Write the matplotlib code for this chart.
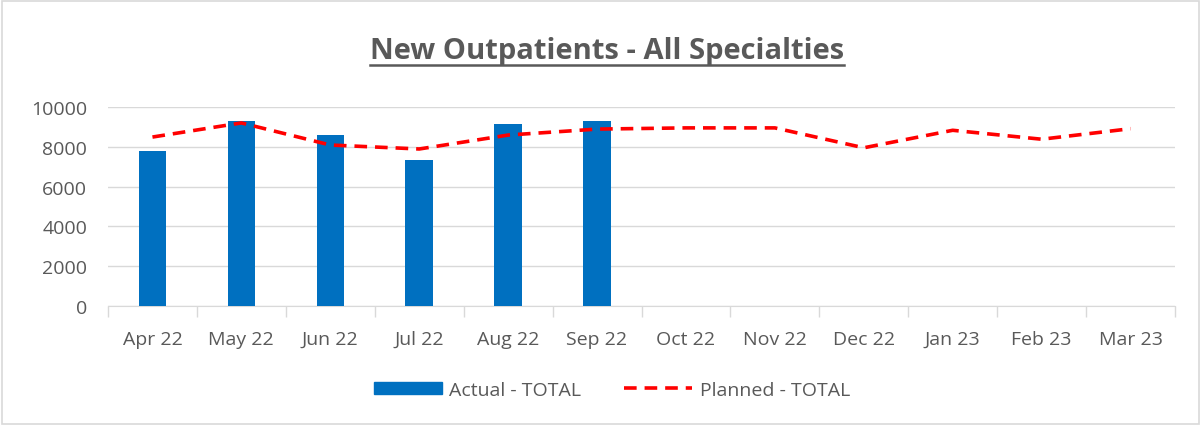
import numpy as np
import matplotlib.pyplot as plt
from matplotlib.patches import Rectangle
from matplotlib.lines import Line2D

months = ['Apr 22', 'May 22', 'Jun 22', 'Jul 22', 'Aug 22', 'Sep 22',
          'Oct 22', 'Nov 22', 'Dec 22', 'Jan 23', 'Feb 23', 'Mar 23']
actual = [7790, 9300, 8590, 7340, 9150, 9300]
planned = [8490, 9200, 8090, 7890, 8590, 8890, 8950, 8950, 7950, 8830, 8380, 8910]

plt.rcParams['font.family'] = ['Open Sans', 'DejaVu Sans']
grey = '#595959'

fig = plt.figure(figsize=(12.01, 4.27), dpi=100)
# chart border
fig.patches.append(Rectangle((0.002, 0.004), 0.996, 0.992, transform=fig.transFigure,
                             fill=False, edgecolor='#d9d9d9', linewidth=1.2))

ax = fig.add_axes([108 / 1201, 1 - 307 / 427, (1175 - 108) / 1201, (307 - 108) / 427])
x = np.arange(len(months))
ax.bar(x[:len(actual)], actual, width=0.31, color='#0070c0', zorder=3)
ax.plot(x, planned, color='#ff0000', linestyle=(0, (3.5, 2.2)), linewidth=2.6, zorder=4)

ax.set_xlim(-0.5, len(months) - 0.5)
ax.set_ylim(0, 10000)
ax.set_yticks(np.arange(0, 10001, 2000))
ax.yaxis.grid(True, color='#d9d9d9', linewidth=1, zorder=0)
ax.tick_params(axis='y', length=0, pad=15, labelsize=14, labelcolor=grey)
ax.set_xticks(x)
ax.set_xticklabels(months)
ax.tick_params(axis='x', which='major', length=0, pad=17, labelsize=14, labelcolor=grey)
ax.set_xticks(np.arange(-0.5, len(months)), minor=True)
ax.tick_params(axis='x', which='minor', length=8, direction='out', color='#d9d9d9', width=1)
for s in ['left', 'right', 'top']:
    ax.spines[s].set_visible(False)
ax.spines['bottom'].set_color('#d9d9d9')

# title with underline
t = fig.text(607 / 1201, 1 - 52 / 427, 'New Outpatients - All Specialties', ha='center', va='center',
             fontsize=21, fontweight='bold', color=grey)
fig.canvas.draw()
bb = t.get_window_extent().transformed(fig.transFigure.inverted())
fig.add_artist(Line2D([bb.x0, bb.x1], [bb.y0 + 0.002, bb.y0 + 0.002], transform=fig.transFigure,
                      color=grey, linewidth=1.8))

handles = [Rectangle((0, 0), 1, 1, color='#0070c0'),
           Line2D([0], [0], color='#ff0000', linestyle=(0, (3.5, 2.2)), linewidth=2.6)]
fig.legend(handles, ['Actual - TOTAL', 'Planned - TOTAL'], loc='center',
           bbox_to_anchor=(612 / 1201, 1 - 391 / 427), ncol=2, frameon=False,
           fontsize=14, labelcolor=grey, handlelength=3.5, handleheight=0.6,
           columnspacing=2.2, handletextpad=0.4)

fig.savefig('out.png', dpi=100)
